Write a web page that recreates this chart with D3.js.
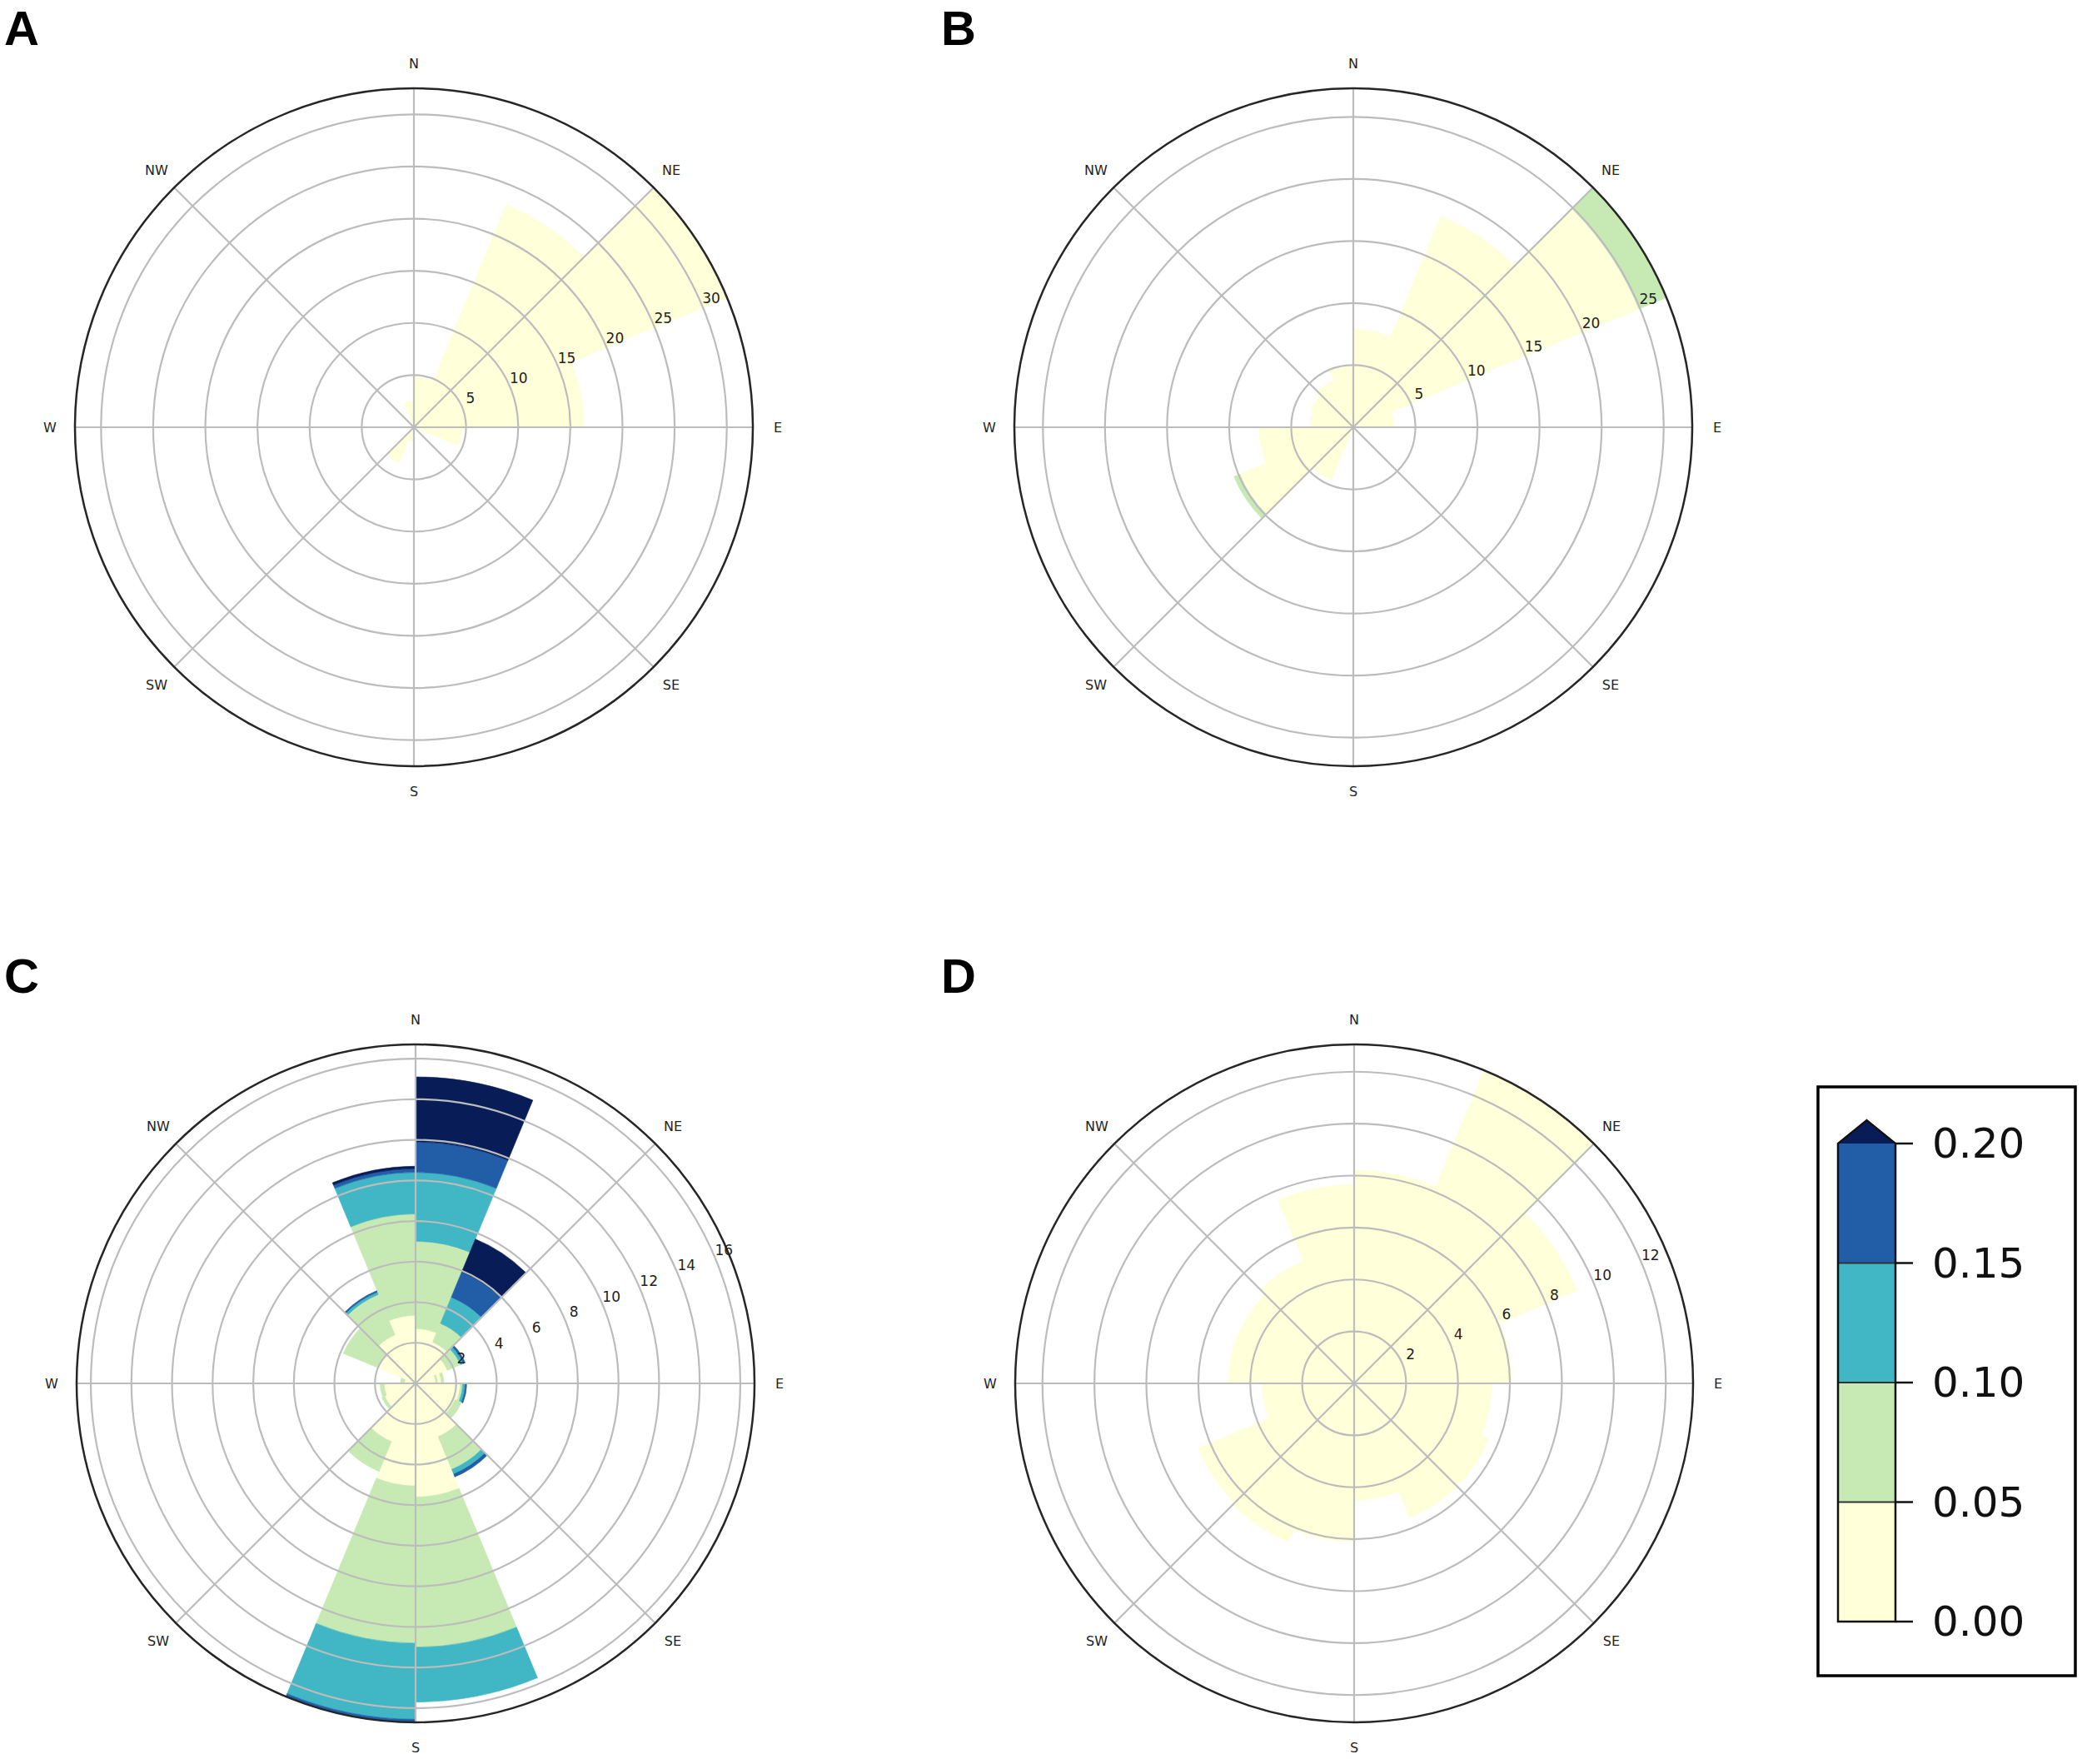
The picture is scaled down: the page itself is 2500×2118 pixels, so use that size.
<!DOCTYPE html>
<html><head><meta charset="utf-8">
<script src="https://cdn.jsdelivr.net/npm/d3@7"></script>
<style>body{margin:0;background:#fff}</style>
</head><body>
<svg id="chart" width="2500" height="2118" xmlns="http://www.w3.org/2000/svg"></svg>
<script>
// ---------------- DATA ----------------
const sectorCount = 16;                 // 22.5 degree sectors, starting at N, clockwise
const compassLabels = ['N','NE','E','SE','S','SW','W','NW'];
const colorBreaks = [0, 0.05, 0.10, 0.15, 0.20];
const colorBreakLabels = ['0.00','0.05','0.10','0.15','0.20'];
const classColors = ['#ffffd9','#c7e9b4','#41b6c4','#225ea8','#081d58'];

// each sector: stacked bands [outer radius, colour class]
const panelA = [
  [[4.8,0]], [[23.1,0]], [[32.5,0]], [[16.3,0]],
  [[4.6,0]], [], [], [],
  [[1.3,0]], [[3.7,0]], [], [],
  [], [], [], [[2.5,0]]
];
const panelB = [
  [[7.9,0]], [[18.4,0]], [[24.9,0],[27.3,1]], [[3.3,0]],
  [], [], [], [],
  [], [[4.6,0]], [[9.9,0],[10.4,1]], [[7.6,0]],
  [[3.5,0]], [[3.7,0]], [[4.1,0]], [[4.9,0]]
];
const panelC = [
  [[2.7,0],[7.0,1],[10.4,2],[11.9,3],[15.1,4]],
  [[2.2,0],[3.2,1],[4.6,2],[5.95,3],[7.7,4]],
  [[1.7,0],[2.4,1],[2.55,2],[2.65,3]],
  [[1.0,0],[1.1,1],[1.27,0],[1.4,1]],
  [[2.2,0],[2.32,1],[2.45,2],[2.52,3]],
  [[2.1,0],[2.45,1]],
  [[2.85,0],[4.6,1],[4.85,2],[5.0,3]],
  [[5.6,0],[13.0,1],[15.7,2]],
  [[5.05,0],[12.8,1],[16.55,2],[16.7,3]],
  [[3.1,0],[4.7,1]],
  [[1.65,0],[1.8,1]],
  [[1.55,0],[1.75,1]],
  [[0.55,0],[0.75,1]],
  [[2.0,0],[3.85,1]],
  [[2.6,0],[4.75,1],[4.88,2],[4.95,3]],
  [[3.35,0],[8.35,1],[10.4,2],[10.58,3],[10.7,4]]
];
const panelD = [
  [[8.2,0]], [[13.05,0]], [[9.3,0]], [[6.07,0]],
  [[5.3,0]], [[5.6,0]], [[5.6,0]], [[4.5,0]],
  [[6.1,0]], [[6.6,0]], [[6.5,0]], [[3.55,0]],
  [[4.85,0]], [[4.85,0]], [[5.1,0]], [[7.65,0]]
];
const rmaxA = 32.5, rmaxB = 27.3, rmaxC = 16.7, rmaxD = 13.05;
const ticksA = [5,10,15,20,25,30];
const ticksB = [5,10,15,20,25];
const ticksC = [2,4,6,8,10,12,14,16];
const ticksD = [2,4,6,8,10,12];

// ---------------- LAYOUT ----------------
const svg = d3.select('#chart');
svg.append('rect').attr('width',2500).attr('height',2118).attr('fill','#fff');
const R = 407;
const panels = [
  {letter:'A', cx:497,  cy:513,  lx:5,    ly:54,   data:panelA, rmax:rmaxA, ticks:ticksA},
  {letter:'B', cx:1625, cy:513,  lx:1130, ly:54,   data:panelB, rmax:rmaxB, ticks:ticksB},
  {letter:'C', cx:499,  cy:1661, lx:5,    ly:1192, data:panelC, rmax:rmaxC, ticks:ticksC},
  {letter:'D', cx:1626, cy:1661, lx:1130, ly:1192, data:panelD, rmax:rmaxD, ticks:ticksD}
];
const sectorAngle = 2*Math.PI/sectorCount;
const classColor = d3.scaleOrdinal().domain([0,1,2,3,4]).range(classColors);

panels.forEach(p => {
  const r = d3.scaleLinear().domain([0, p.rmax]).range([0, R]);
  const g = svg.append('g').attr('transform',`translate(${p.cx},${p.cy})`);

  // bars
  const segs = [];
  p.data.forEach((bands, k) => {
    let r0 = 0;
    bands.forEach(([r1, cls]) => { segs.push({k, r0, r1, cls}); r0 = r1; });
  });
  const arc = d3.arc()
    .innerRadius(d => r(d.r0)).outerRadius(d => r(d.r1))
    .startAngle(d => d.k*sectorAngle).endAngle(d => (d.k+1)*sectorAngle);
  g.selectAll('path.bar').data(segs).join('path').attr('class','bar')
    .attr('d', arc).attr('fill', d => classColor(d.cls))
    .attr('stroke', d => classColor(d.cls)).attr('stroke-width',0.6);

  // grid rings
  g.selectAll('circle.ring').data(p.ticks).join('circle').attr('class','ring')
    .attr('r', d => r(d)).attr('fill','none').attr('stroke','#bcbcbc').attr('stroke-width',2.2);
  // spokes
  const spokes = d3.range(8).map(i => i*Math.PI/4);
  g.selectAll('line.spoke').data(spokes).join('line').attr('class','spoke')
    .attr('x1',0).attr('y1',0)
    .attr('x2', a => R*Math.sin(a)).attr('y2', a => -R*Math.cos(a))
    .attr('stroke','#bcbcbc').attr('stroke-width',2.2);
  // outer circle
  g.append('circle').attr('r',R).attr('fill','none').attr('stroke','#262626').attr('stroke-width',2.5);

  // compass labels
  g.selectAll('text.dir').data(compassLabels).join('text').attr('class','dir')
    .attr('x',(d,i) => (R+30)*Math.sin(i*Math.PI/4))
    .attr('y',(d,i) => -(R+30)*Math.cos(i*Math.PI/4))
    .attr('text-anchor','middle').attr('dominant-baseline','central')
    .attr('font-family','DejaVu Sans').attr('font-size',16).attr('fill','#222')
    .text(d => d);

  // radial tick labels (22.5 deg above E)
  const la = 67.5*Math.PI/180;
  g.selectAll('text.rt').data(p.ticks).join('text').attr('class','rt')
    .attr('x', d => r(d)*Math.sin(la) + 10)
    .attr('y', d => -r(d)*Math.cos(la) - 11)
    .attr('text-anchor','middle').attr('dominant-baseline','central')
    .attr('font-family','DejaVu Sans').attr('font-size',17).attr('fill','#222')
    .text(d => d);

  // panel letter
  svg.append('text').attr('x',p.lx).attr('y',p.ly)
    .attr('font-family','Liberation Sans, Arial, sans-serif').attr('font-weight','bold')
    .attr('font-size',58).attr('fill','#000').text(p.letter);
});

// ---------------- COLORBAR ----------------
const cb = svg.append('g');
cb.append('rect').attr('x',2183).attr('y',1305).attr('width',309).attr('height',707)
  .attr('fill','#fff').attr('stroke','#000').attr('stroke-width',3.5);
const cy = d3.scaleLinear().domain([0,0.2]).range([1947,1373]);
const bx0 = 2207, bx1 = 2276;
for (let i=0;i<4;i++){
  cb.append('rect').attr('x',bx0).attr('width',bx1-bx0)
    .attr('y',cy(colorBreaks[i+1])).attr('height',cy(colorBreaks[i])-cy(colorBreaks[i+1]))
    .attr('fill',classColors[i]);
}
const tipY = cy(0.2) - 28;
cb.append('path').attr('d',`M${bx0},${cy(0.2)} L${(bx0+bx1)/2},${tipY} L${bx1},${cy(0.2)} Z`)
  .attr('fill',classColors[4]);
[0.05,0.10,0.15].forEach(v => cb.append('line').attr('x1',bx0).attr('x2',bx1)
  .attr('y1',cy(v)).attr('y2',cy(v)).attr('stroke','#333').attr('stroke-width',2));
cb.append('path')
  .attr('d',`M${bx0},${cy(0)} L${bx0},${cy(0.2)} L${(bx0+bx1)/2},${tipY} L${bx1},${cy(0.2)} L${bx1},${cy(0)} Z`)
  .attr('fill','none').attr('stroke','#111').attr('stroke-width',2.5);
colorBreaks.forEach((v,i) => {
  cb.append('line').attr('x1',bx1).attr('x2',bx1+21).attr('y1',cy(v)).attr('y2',cy(v))
    .attr('stroke','#111').attr('stroke-width',2.5);
  cb.append('text').attr('x',2320).attr('y',cy(v)).attr('dominant-baseline','central')
    .attr('font-family','DejaVu Sans').attr('font-size',50).attr('fill','#111')
    .text(colorBreakLabels[i]);
});
</script>
</body></html>
